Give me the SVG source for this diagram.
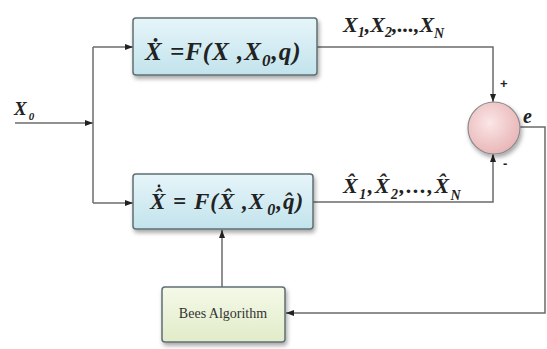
<svg xmlns="http://www.w3.org/2000/svg" width="547" height="349" viewBox="0 0 547 349">
  <defs>
    <linearGradient id="blueFill" x1="0" y1="0" x2="0" y2="1">
      <stop offset="0" stop-color="#e6f5f9"/>
      <stop offset="1" stop-color="#c2e3ec"/>
    </linearGradient>
    <linearGradient id="greenFill" x1="0" y1="0" x2="0" y2="1">
      <stop offset="0" stop-color="#f5f9e8"/>
      <stop offset="1" stop-color="#e1ecc9"/>
    </linearGradient>
    <radialGradient id="pinkFill" cx="0.42" cy="0.4" r="0.65">
      <stop offset="0" stop-color="#fbe6e6"/>
      <stop offset="1" stop-color="#e8b3b5"/>
    </radialGradient>
    <filter id="shadow" x="-10%" y="-10%" width="125%" height="140%">
      <feDropShadow dx="1.5" dy="3" stdDeviation="2" flood-color="#000" flood-opacity="0.35"/>
    </filter>
    <marker id="arrow" viewBox="0 0 8 6" markerWidth="8" markerHeight="6" refX="8" refY="3" orient="auto" markerUnits="userSpaceOnUse">
      <path d="M0,0 L8,3 L0,6 z" fill="#222"/>
    </marker>
  </defs>
  <style>
    .wire { fill: none; stroke: #6b6b6b; stroke-width: 1.5; }
    .box { stroke: #5f6f73; stroke-width: 1.5; filter: url(#shadow); }
    .math { font-family: "Liberation Serif", "DejaVu Serif", serif; font-weight: bold; font-style: italic; fill: #222; }
    .plain { font-family: "Liberation Serif", "DejaVu Serif", serif; fill: #333; }
    .sign { font-family: "Liberation Sans", sans-serif; font-weight: bold; fill: #222; }
  </style>

  <rect width="547" height="349" fill="#ffffff"/>

  <!-- signal lines -->
  <g id="connectors">
    <path class="wire" d="M15,123 H93" marker-end="url(#arrow)"/>
    <path class="wire" d="M93,47 V203"/>
    <path class="wire" d="M93,47 H133" marker-end="url(#arrow)"/>
    <path class="wire" d="M93,203 H133" marker-end="url(#arrow)"/>
    <path class="wire" d="M317,47 H493 V102" marker-end="url(#arrow)"/>
    <path class="wire" d="M313,202 H493 V154" marker-end="url(#arrow)"/>
    <path class="wire" d="M520,127 H545 V313 H286" marker-end="url(#arrow)"/>
    <path class="wire" d="M222,287 V230" marker-end="url(#arrow)"/>
  </g>

  <!-- input label -->
  <g id="input-label">
    <text class="math" x="14" y="115" font-size="19">X<tspan dx="2" dy="5" font-size="11">0</tspan></text>
  </g>

  <!-- plant model -->
  <g id="plant">
    <rect class="box" x="133" y="18" width="184" height="57" rx="3" fill="url(#blueFill)"/>
    <text class="math" x="145" y="60" font-size="25" letter-spacing="1">Ẋ<tspan> =F(X ,X</tspan><tspan dy="6" font-size="17">0</tspan><tspan dy="-6">,q)</tspan></text>
  </g>

  <!-- estimated model -->
  <g id="estimate">
    <rect class="box" x="133" y="174" width="180" height="55" rx="3" fill="url(#blueFill)"/>
    <text class="math" x="150" y="209" font-size="23" letter-spacing="1">X̂<tspan> = F(X̂ ,X</tspan><tspan dx="2" dy="6" font-size="16">0</tspan><tspan dy="-6">,q̂)</tspan></text>
    <!-- time-derivative dot stacked over the hat -->
    <circle cx="159" cy="186" r="1.4" fill="#222"/>
  </g>

  <!-- output labels -->
  <g id="outputs">
    <text class="math" x="343" y="32" font-size="22">X<tspan dy="5" font-size="14">1</tspan><tspan dy="-5">,X</tspan><tspan dy="5" font-size="14">2</tspan><tspan dy="-5">,...,X</tspan><tspan dy="6" font-size="14">N</tspan></text>
    <text class="math" x="343" y="193" font-size="22" letter-spacing="1.5">X̂<tspan dy="6" font-size="14">1</tspan><tspan dy="-6">,X̂</tspan><tspan dy="6" font-size="14">2</tspan><tspan dy="-6">,...,X̂</tspan><tspan dy="7" font-size="14">N</tspan></text>
  </g>

  <!-- comparator -->
  <g id="comparator">
    <circle cx="494" cy="128" r="26" fill="url(#pinkFill)" stroke="#8a8a8a" stroke-width="1.2" filter="url(#shadow)"/>
    <text class="sign" x="500" y="88" font-size="13">+</text>
    <text class="sign" x="503" y="168" font-size="13">-</text>
    <text class="math" x="523" y="123" font-size="20">e</text>
  </g>

  <!-- optimiser -->
  <g id="bees">
    <rect class="box" x="162" y="287" width="123" height="55" rx="3" fill="url(#greenFill)"/>
    <text class="plain" x="223" y="318" font-size="14" text-anchor="middle">Bees Algorithm</text>
  </g>
</svg>
